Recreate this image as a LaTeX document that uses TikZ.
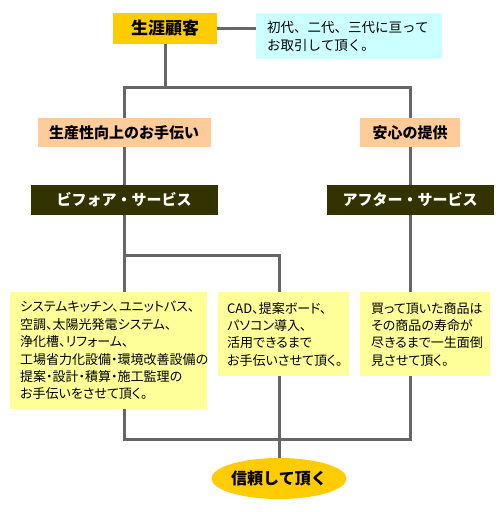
\documentclass[tikz,border=0pt]{standalone}
\usepackage{fontspec}
\setmainfont{Noto Sans CJK JP}
\newfontfamily\bodyfont{Noto Sans CJK JP}[RawFeature=+palt]
\usetikzlibrary{shapes.geometric}
\definecolor{gold}{HTML}{FFCC00}
\definecolor{paleCyan}{HTML}{CCFFFF}
\definecolor{peach}{HTML}{FFCC99}
\definecolor{darkolive}{HTML}{333300}
\definecolor{paleYellow}{HTML}{FFFF99}
\definecolor{lineGray}{HTML}{666666}
\begin{document}
\begin{tikzpicture}[x=1pt,y=-1pt,
  conn/.style={draw=lineGray, line width=3pt},
  goldbox/.style={fill=gold, inner sep=0pt, font=\fontsize{17}{20}\selectfont\bfseries},
  cyanbox/.style={fill=paleCyan, anchor=north west, inner xsep=11pt, inner ysep=0pt, align=left,
    font=\fontsize{13.5}{18}\selectfont},
  peachbox/.style={fill=peach, inner sep=0pt, minimum height=29pt, font=\fontsize{15}{18}\selectfont\bfseries},
  darkbox/.style={fill=darkolive, text=white, inner sep=0pt, minimum height=30pt, font=\fontsize{15}{18}\selectfont\bfseries},
  yelbox/.style={fill=paleYellow, anchor=north west, inner xsep=10pt, inner ysep=0pt, align=left,
    font=\bodyfont\fontsize{13}{17.4}\selectfont},
  goal/.style={ellipse, fill=gold, inner sep=0pt, minimum width=123pt, minimum height=41pt,
    font=\fontsize{16}{19}\selectfont\bfseries}
]
\useasboundingbox (0,0) rectangle (500,512);
\fill[white] (0,0) rectangle (500,512);

% nodes
\node[goldbox, minimum width=104pt, minimum height=31pt] (top) at (165,28.5) {生涯顧客};
\node[cyanbox, minimum height=46pt, text width=164pt] (note) at (256,13) {初代、二代、三代に亘って\\お取引して頂く。};
\node[peachbox, minimum width=173pt] (o1) at (124,132.5) {生産性向上のお手伝い};
\node[peachbox, minimum width=100pt] (o2) at (410,132.5) {安心の提供};
\node[darkbox, minimum width=187pt] (d1) at (124,200) {ビフォア・サービス};
\node[darkbox, minimum width=167pt] (d2) at (410,200) {アフター・サービス};
\node[yelbox, minimum height=117pt, text width=177pt] (b1) at (10,292)
  {システムキッチン、ユニットバス、\\空調、太陽光発電システム、\\浄化槽、リフォーム、\\工場省力化設備・環境改善設備の\\提案・設計・積算・施工監理の\\お手伝いをさせて頂く。};
\node[yelbox, inner xsep=9pt, minimum height=84pt, text width=113pt] (b2) at (218,292)
  {CAD、提案ボード、\\パソコン導入、\\活用できるまで\\お手伝いさせて頂く。};
\node[yelbox, inner xsep=11pt, minimum height=84pt, text width=108pt] (b3) at (360,292)
  {買って頂いた商品は\\その商品の寿命が\\尽きるまで一生面倒\\見させて頂く。};
\node[goal] (end) at (279,478.5) {信頼して頂く};

\coordinate (j1) at (165,87);
\coordinate (j2) at (279,255);
\coordinate (j3) at (279,439);

% connectors
\draw[conn] (top.east) -- (top.east -| note.west);
\draw[conn] (top.south) -- (j1);
\draw[conn] (o1.north) |- (j1) -| (o2.north);
\draw[conn] (o1.south) -- (d1.north);
\draw[conn] (o2.south) -- (d2.north);
\draw[conn] (d1.south) -- (d1.south |- b1.north);
\draw[conn] (d1.south |- j2) -| (j2 |- b2.north);
\draw[conn] (d2.south) -- (d2.south |- b3.north);
\draw[conn] (d1.south |- b1.south) |- (j3) -| (d2.south |- b3.south);
\draw[conn] (j3 |- b2.south) -- (end.north);
\end{tikzpicture}
\end{document}
